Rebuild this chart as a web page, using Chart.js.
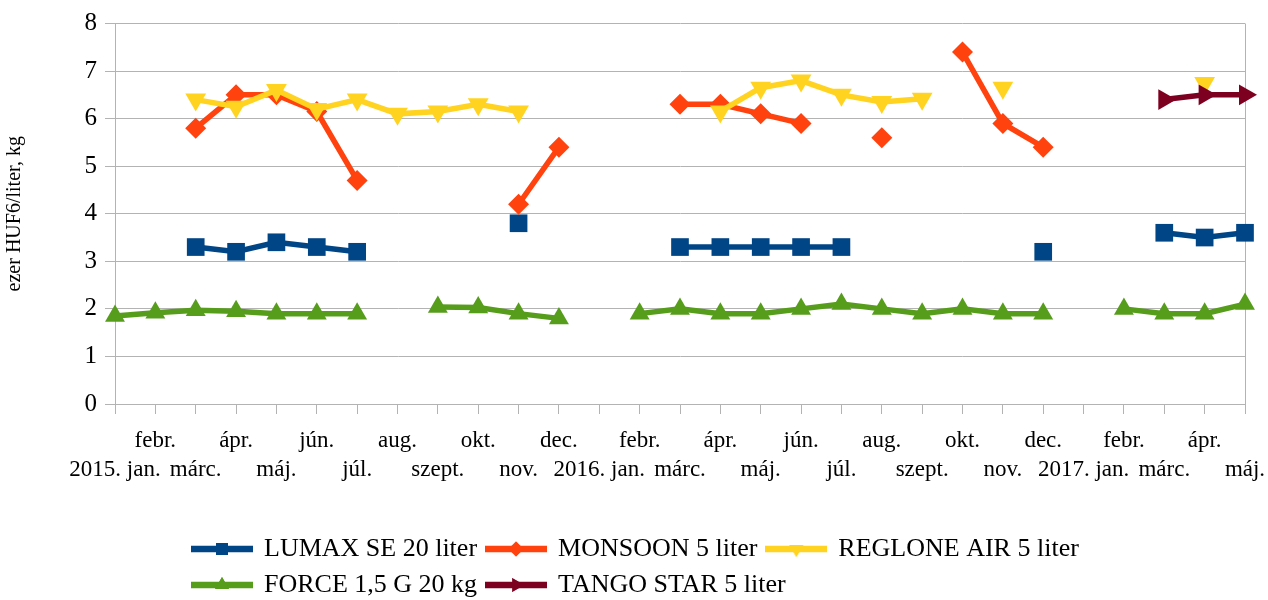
<!DOCTYPE html>
<html>
<head>
<meta charset="utf-8">
<script src="https://cdn.jsdelivr.net/npm/chart.js@4.4.1/dist/chart.umd.min.js"></script>
<style>
  html, body { margin: 0; padding: 0; background: #ffffff; }
  #wrap { width: 1268px; height: 600px; position: relative; }
</style>
</head>
<body>
<div id="wrap"><canvas id="c" width="1268" height="600"></canvas></div>
<script>
// ---- data ----
const categories = [
  '2015. jan.', 'febr.', 'márc.', 'ápr.', 'máj.', 'jún.', 'júl.', 'aug.', 'szept.', 'okt.', 'nov.', 'dec.',
  '2016. jan.', 'febr.', 'márc.', 'ápr.', 'máj.', 'jún.', 'júl.', 'aug.', 'szept.', 'okt.', 'nov.', 'dec.',
  '2017. jan.', 'febr.', 'márc.', 'ápr.', 'máj.'
];
const seriesNames = ['LUMAX SE 20 liter', 'MONSOON 5 liter', 'REGLONE AIR 5 liter', 'FORCE 1,5 G 20 kg', 'TANGO STAR 5 liter'];
const lumax = [null, null, 3.3, 3.2, 3.4, 3.3, 3.2, null, null, null, 3.8, null,
  null, null, 3.3, 3.3, 3.3, 3.3, 3.3, null, null, null, null, 3.2,
  null, null, 3.6, 3.5, 3.6];
const monsoon = [null, null, 5.8, 6.5, 6.5, 6.15, 4.7, null, null, null, 4.2, 5.4,
  null, null, 6.3, 6.3, 6.1, 5.9, null, 5.6, null, 7.4, 5.9, 5.4,
  null, null, null, null, null];
const reglone = [null, null, 6.4, 6.25, 6.6, 6.2, 6.4, 6.1, 6.15, 6.3, 6.15, null,
  null, null, null, 6.15, 6.65, 6.8, 6.5, 6.35, 6.42, null, 6.65, null,
  null, null, null, 6.75, null];
const force = [1.85, 1.92, 1.97, 1.95, 1.9, 1.9, 1.9, null, 2.04, 2.03, 1.9, 1.8,
  null, 1.9, 2.0, 1.9, 1.9, 2.0, 2.1, 2.0, 1.9, 2.0, 1.9, 1.9,
  null, 2.0, 1.9, 1.9, 2.1];
const tango = [null, null, null, null, null, null, null, null, null, null, null, null,
  null, null, null, null, null, null, null, null, null, null, null, null,
  null, null, 6.4, 6.5, 6.5];
const yTicks = [0, 1, 2, 3, 4, 5, 6, 7, 8];
const yTitle = 'ezer HUF6/liter, kg';

// ---- styles ----
const colors = ['#004586', '#ff420e', '#ffd320', '#579d1c', '#7e0021'];
const styles = [
  {pointStyle: 'rect', rotation: 0, radius: 12.5, legendRadius: 8.5},
  {pointStyle: 'rectRot', rotation: 0, radius: 10.5, legendRadius: 7.5},
  {pointStyle: 'triangle', rotation: 180, radius: 12, legendRadius: 8},
  {pointStyle: 'triangle', rotation: 0, radius: 11.5, legendRadius: 8},
  {pointStyle: 'triangle', rotation: 90, radius: 12, legendRadius: 8}
];
const seriesData = [lumax, monsoon, reglone, force, tango];
const SERIF = '"Liberation Serif", "DejaVu Serif", serif';

function makeSwatch(color, style) {
  const cv = document.createElement('canvas');
  cv.width = 62; cv.height = 24;
  const g = cv.getContext('2d');
  g.strokeStyle = color; g.lineWidth = 6.5;
  g.beginPath(); g.moveTo(0, 12); g.lineTo(62, 12); g.stroke();
  g.fillStyle = color;
  Chart.helpers.drawPoint(g, {pointStyle: style.pointStyle, rotation: style.rotation, radius: style.legendRadius, borderWidth: 0}, 31, 12);
  g.fill();
  return cv;
}

const datasets = seriesNames.map((name, i) => ({
  label: name,
  data: seriesData[i],
  borderColor: colors[i],
  backgroundColor: colors[i],
  borderWidth: 5.5,
  pointStyle: styles[i].pointStyle,
  rotation: styles[i].rotation,
  pointRadius: styles[i].radius,
  pointHoverRadius: styles[i].radius,
  pointBorderWidth: 0,
  pointBackgroundColor: colors[i],
  tension: 0,
  spanGaps: false,
  clip: false,
  order: 5 - i
}));

const legendPlacer = {
  id: 'legendPlacer',
  afterLayout(chart) {
    const lg = chart.legend;
    if (!lg) return;
    const h = lg.height;
    lg.left = 183;
    lg.right = 1160;
    lg.top = 526;
    lg.bottom = lg.top + h;
  }
};

new Chart(document.getElementById('c'), {
  type: 'line',
  data: { labels: categories, datasets: datasets },
  plugins: [legendPlacer],
  options: {
    responsive: false,
    animation: false,
    events: [],
    layout: { padding: { top: 23.5, right: 23, left: 0, bottom: 0 } },
    plugins: {
      tooltip: { enabled: false },
      legend: {
        position: 'bottom',
        align: 'start',
        labels: {
          usePointStyle: true,
          pointStyleWidth: 58,
          padding: 10,
          color: '#000',
          font: { family: SERIF, size: 26 },
          generateLabels(chart) {
            return chart.data.datasets.map((ds, i) => ({
              text: ds.label,
              fillStyle: colors[i],
              strokeStyle: colors[i],
              lineWidth: 0,
              pointStyle: makeSwatch(colors[i], styles[i]),
              rotation: 0,
              hidden: false,
              datasetIndex: i,
              fontColor: '#000'
            }));
          }
        }
      }
    },
    scales: {
      x: {
        type: 'category',
        offset: false,
        afterFit(s) { s.height = 114; s.paddingRight = 0; s.paddingLeft = 0; },
        grid: {
          display: true,
          drawOnChartArea: true,
          drawTicks: true,
          tickLength: 10,
          color: (ctx) => ctx.index === categories.length - 1 ? '#b3b3b3' : 'rgba(0,0,0,0)',
          tickColor: '#b3b3b3',
          lineWidth: 1
        },
        border: { display: true, color: '#b3b3b3', width: 1 },
        ticks: {
          autoSkip: false,
          maxRotation: 0,
          minRotation: 0,
          padding: 13,
          color: '#000',
          font: { family: SERIF, size: 23, lineHeight: 1.25 },
          callback: (v, i) => (i % 2 === 0 ? ['', categories[i]] : [categories[i]])
        }
      },
      y: {
        min: 0,
        max: 8,
        afterFit(s) { s.width = 115; },
        afterBuildTicks(s) { s.ticks = yTicks.map(v => ({ value: v })); },
        grid: {
          color: '#b3b3b3',
          tickColor: '#b3b3b3',
          tickLength: 10,
          lineWidth: 1
        },
        border: { display: true, color: '#b3b3b3', width: 1 },
        ticks: {
          stepSize: 1,
          padding: 8,
          color: '#000',
          font: { family: SERIF, size: 25 }
        },
        title: {
          display: true,
          text: yTitle,
          color: '#000',
          font: { family: SERIF, size: 20 },
          padding: { top: 3, bottom: 0 }
        }
      }
    }
  }
});
</script>
</body>
</html>
